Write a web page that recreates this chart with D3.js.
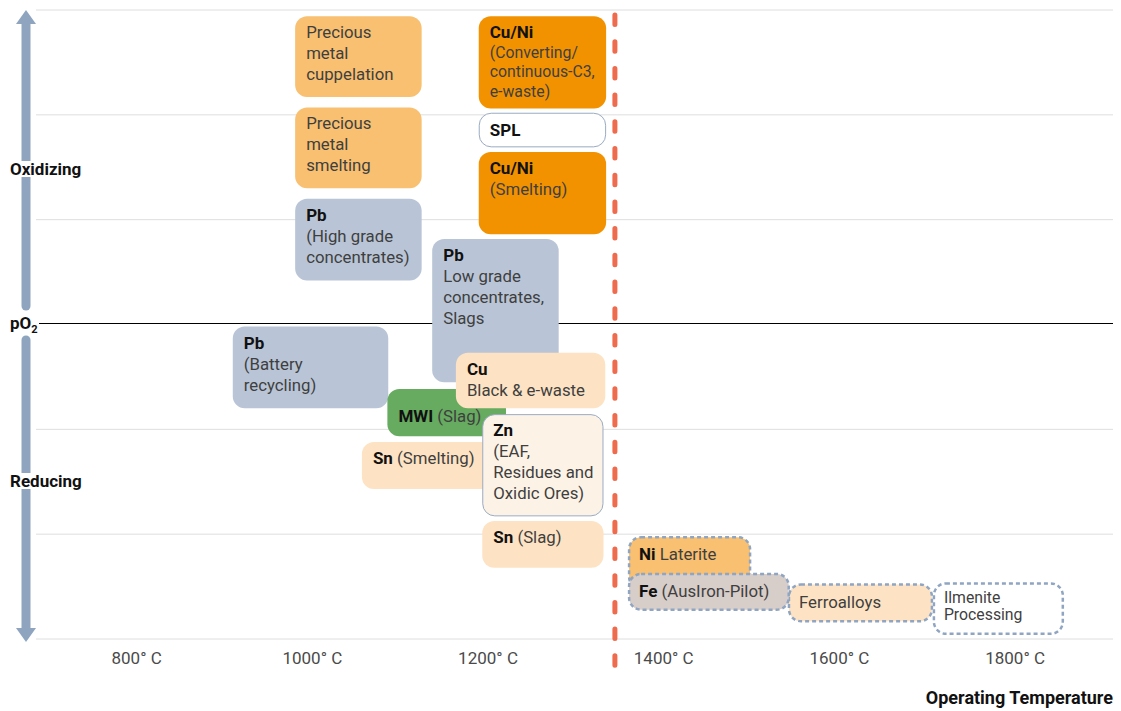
<!DOCTYPE html>
<html>
<head>
<meta charset="utf-8">
<script src="https://cdn.jsdelivr.net/npm/d3@7"></script>
<style>
  body { margin: 0; background: #fff; }
  svg { display: block; font-family: Roboto, "Noto Sans", sans-serif; }
</style>
</head>
<body>
<svg></svg>
<script>
// Process window chart: operating temperature vs oxygen partial pressure

// temperature ticks along the bottom
var tempTicks = [800, 1000, 1200, 1400, 1600, 1800]
// pO2 levels (abstract units, 0 = neutral line)
var po2Levels = [-3, -2, -1, 0, 1, 2, 3]
// the dashed limit line
var tempLimit = 1345

// one entry per process box, kept as parallel lists
var boxNames = ["cupel", "pmSmelt", "pbHigh", "cuniConv", "spl", "cuniSmelt", "pbLow",
                "pbBattery", "mwi", "cuBlack", "snSmelt", "zn", "snSlag",
                "niLaterite", "ferro", "fe", "ilmenite"]
var boxGroup = ["precious", "precious", "pb", "cuni", "outline", "cuni", "pb",
                "pb", "mwi", "peach", "peach", "zn", "peach",
                "precious", "peach", "fe", "blank"]
var tempFrom  = [981, 981, 981, 1190, 1190, 1190, 1137, 910, 1086, 1164, 1057, 1194, 1194, 1360, 1542, 1360, 1707]
var tempTo    = [1125, 1125, 1125, 1335, 1335, 1335, 1281, 1087, 1221, 1334, 1214, 1332, 1332, 1500, 1707, 1544, 1856]
var po2Top    = [2.94, 2.07, 1.20, 2.94, 2.02, 1.645, 0.815, -0.02, -0.615, -0.27, -1.12, -0.855, -1.875, -2.02, -2.47, -2.37, -2.46]
var po2Bottom = [2.17, 1.30, 0.42, 2.06, 1.69, 0.86, -0.55, -0.80, -1.065, -0.80, -1.57, -1.83, -2.32, -2.53, -2.84, -2.73, -2.96]
var pilot     = [false, false, false, false, false, false, false, false, false, false, false, false, false, true, true, true, true]
// each line: [bold part, regular part]
var boxLines = [
    [["", "Precious"], ["", "metal"], ["", "cuppelation"]],
    [["", "Precious"], ["", "metal"], ["", "smelting"]],
    [["Pb", ""], ["", "(High grade"], ["", "concentrates)"]],
    [["Cu/Ni", ""], ["", "(Converting/"], ["", "continuous-C3,"], ["", "e-waste)"]],
    [["SPL", ""]],
    [["Cu/Ni", ""], ["", "(Smelting)"]],
    [["Pb", ""], ["", "Low grade"], ["", "concentrates,"], ["", "Slags"]],
    [["Pb", ""], ["", "(Battery"], ["", "recycling)"]],
    [["MWI", " (Slag)"]],
    [["Cu", ""], ["", "Black & e-waste"]],
    [["Sn", " (Smelting)"]],
    [["Zn", ""], ["", "(EAF,"], ["", "Residues and"], ["", "Oxidic Ores)"]],
    [["Sn", " (Slag)"]],
    [["Ni", " Laterite"]],
    [["", "Ferroalloys"]],
    [["Fe", " (AusIron-Pilot)"]],
    [["", "Ilmenite"], ["", "Processing"]]
]

var boxes = boxNames.map((n, i) => ({
    name: n, group: boxGroup[i], t0: tempFrom[i], t1: tempTo[i],
    top: po2Top[i], bottom: po2Bottom[i], pilot: pilot[i], lines: boxLines[i]
}))

var width = 1121, height = 711
var svg = d3.select("svg").attr("width", width).attr("height", height)

var x = d3.scaleLinear().domain([686, 1912]).range([36, 1113])
var y = d3.scaleLinear().domain([-3, 3]).range([639, 10])

var fills = {
    precious: "#f8c070", cuni: "#f39200", pb: "#b9c5d6", mwi: "#66ab5f",
    peach: "#fde3c3", zn: "#fdf2e6", outline: "#ffffff", fe: "#d7cdc9", blank: "#ffffff"
}

// text tweaks per box (baseline offset, font size, line height)
var textStyle = {
    cuniConv: {size: 15.8, lh: 19.5},
    spl: {dy: 23},
    mwi: {dy: 33},
    niLaterite: {dy: 24},
    fe: {dy: 24},
    ferro: {dy: 25},
    ilmenite: {dy: 21, size: 15.8, lh: 16.8}
}

// gridlines
svg.append("g").selectAll("line")
    .data(po2Levels.filter(d => d != 0))
    .enter().append("line")
        .attr("x1", x.range()[0]).attr("x2", x.range()[1])
        .attr("y1", d => y(d)).attr("y2", d => y(d))
        .attr("stroke", "#dedede").attr("stroke-width", 1)

// neutral pO2 line
svg.append("line")
    .attr("x1", 39).attr("x2", x.range()[1])
    .attr("y1", y(0) - 1).attr("y2", y(0) - 1)
    .attr("stroke", "#000").attr("stroke-width", 1.2)

// x axis labels (no axis line)
var xAxis = d3.axisBottom(x).tickValues(tempTicks).tickSize(0).tickPadding(0)
    .tickFormat(d => d + "° C")
var xg = svg.append("g").attr("transform", `translate(0, ${y(-3) + 13})`).call(xAxis)
xg.select(".domain").remove()
xg.selectAll("text")
    .attr("font-family", "Roboto, sans-serif")
    .attr("font-size", 17)
    .attr("fill", "#4a4a4a")

svg.append("text")
    .attr("x", x.range()[1]).attr("y", 704)
    .attr("text-anchor", "end")
    .attr("font-weight", "bold").attr("font-size", 18)
    .attr("fill", "#111")
    .text("Operating Temperature")

// process boxes
var g = svg.append("g")
boxes.forEach(b => {
    var bx = x(b.t0), by = y(b.top), bw = x(b.t1) - x(b.t0), bh = y(b.bottom) - y(b.top)
    var rect = g.append("rect")
        .attr("x", bx).attr("y", by).attr("width", bw).attr("height", bh)
        .attr("rx", 12).attr("ry", 12)
        .attr("fill", fills[b.group])
    if (b.pilot) {
        rect.attr("stroke", "#8fa5c2").attr("stroke-width", 2.5)
            .attr("stroke-dasharray", "4 3")
            .attr("x", bx + 1).attr("y", by + 1).attr("width", bw - 2).attr("height", bh - 2)
    } else if (b.group == "outline" || b.group == "zn") {
        rect.attr("stroke", "#9aabc2").attr("stroke-width", 1)
            .attr("x", bx + 0.5).attr("y", by + 0.5).attr("width", bw - 1).attr("height", bh - 1)
    }
    var st = textStyle[b.name] || {}
    var size = st.size || 16.8, lh = st.lh || 21, dy = st.dy || 22
    var t = g.append("text")
        .attr("font-size", size)
    b.lines.forEach((ln, i) => {
        var tl = t.append("tspan").attr("x", bx + 11).attr("y", by + dy + i * lh)
        if (ln[0]) tl.append("tspan").attr("font-weight", "bold").attr("fill", "#111")
            .attr("font-size", 17).text(ln[0])
        if (ln[1]) tl.append("tspan").attr("fill", "#3f3f3f").text(ln[1])
    })
})

// limit line
svg.append("line")
    .attr("x1", x(tempLimit)).attr("x2", x(tempLimit))
    .attr("y1", 15).attr("y2", 668)
    .attr("stroke", "#ee6b4d").attr("stroke-width", 5)
    .attr("stroke-linecap", "round")
    .attr("stroke-dasharray", "9.5 17.2")

// pO2 arrows on the left
var ax = 26, arrowCol = "#8fa5bf"
svg.append("line").attr("x1", ax).attr("x2", ax).attr("y1", 306).attr("y2", 22)
    .attr("stroke", arrowCol).attr("stroke-width", 9).attr("stroke-linecap", "round")
svg.append("path").attr("d", `M${ax},${y(3)} L${ax + 10},${y(3) + 14} L${ax - 10},${y(3) + 14} Z`)
    .attr("fill", arrowCol)
svg.append("line").attr("x1", ax).attr("x2", ax).attr("y1", 340).attr("y2", 628)
    .attr("stroke", arrowCol).attr("stroke-width", 9).attr("stroke-linecap", "round")
svg.append("path").attr("d", `M${ax},${y(-3) + 3} L${ax + 10},${y(-3) - 11} L${ax - 10},${y(-3) - 11} Z`)
    .attr("fill", arrowCol)

// side labels with white halo behind them
var sideLabels = [{text: "Oxidizing", y: 175}, {text: "Reducing", y: 487}]
sideLabels.forEach(s => {
    var t = svg.append("text").attr("x", 10).attr("y", s.y)
        .attr("font-weight", "bold").attr("font-size", 17).attr("fill", "#111")
        .text(s.text)
    var bb = t.node().getBBox()
    svg.insert("rect", () => t.node())
        .attr("x", bb.x - 1).attr("y", bb.y + 2).attr("width", bb.width + 2).attr("height", bb.height - 4)
        .attr("fill", "#fff")
})
var po2 = svg.append("text").attr("x", 10).attr("y", 329)
    .attr("font-weight", "bold").attr("font-size", 17).attr("fill", "#111")
po2.append("tspan").text("pO")
po2.append("tspan").attr("font-size", 11).attr("dy", 4).text("2")
</script>
</body>
</html>
